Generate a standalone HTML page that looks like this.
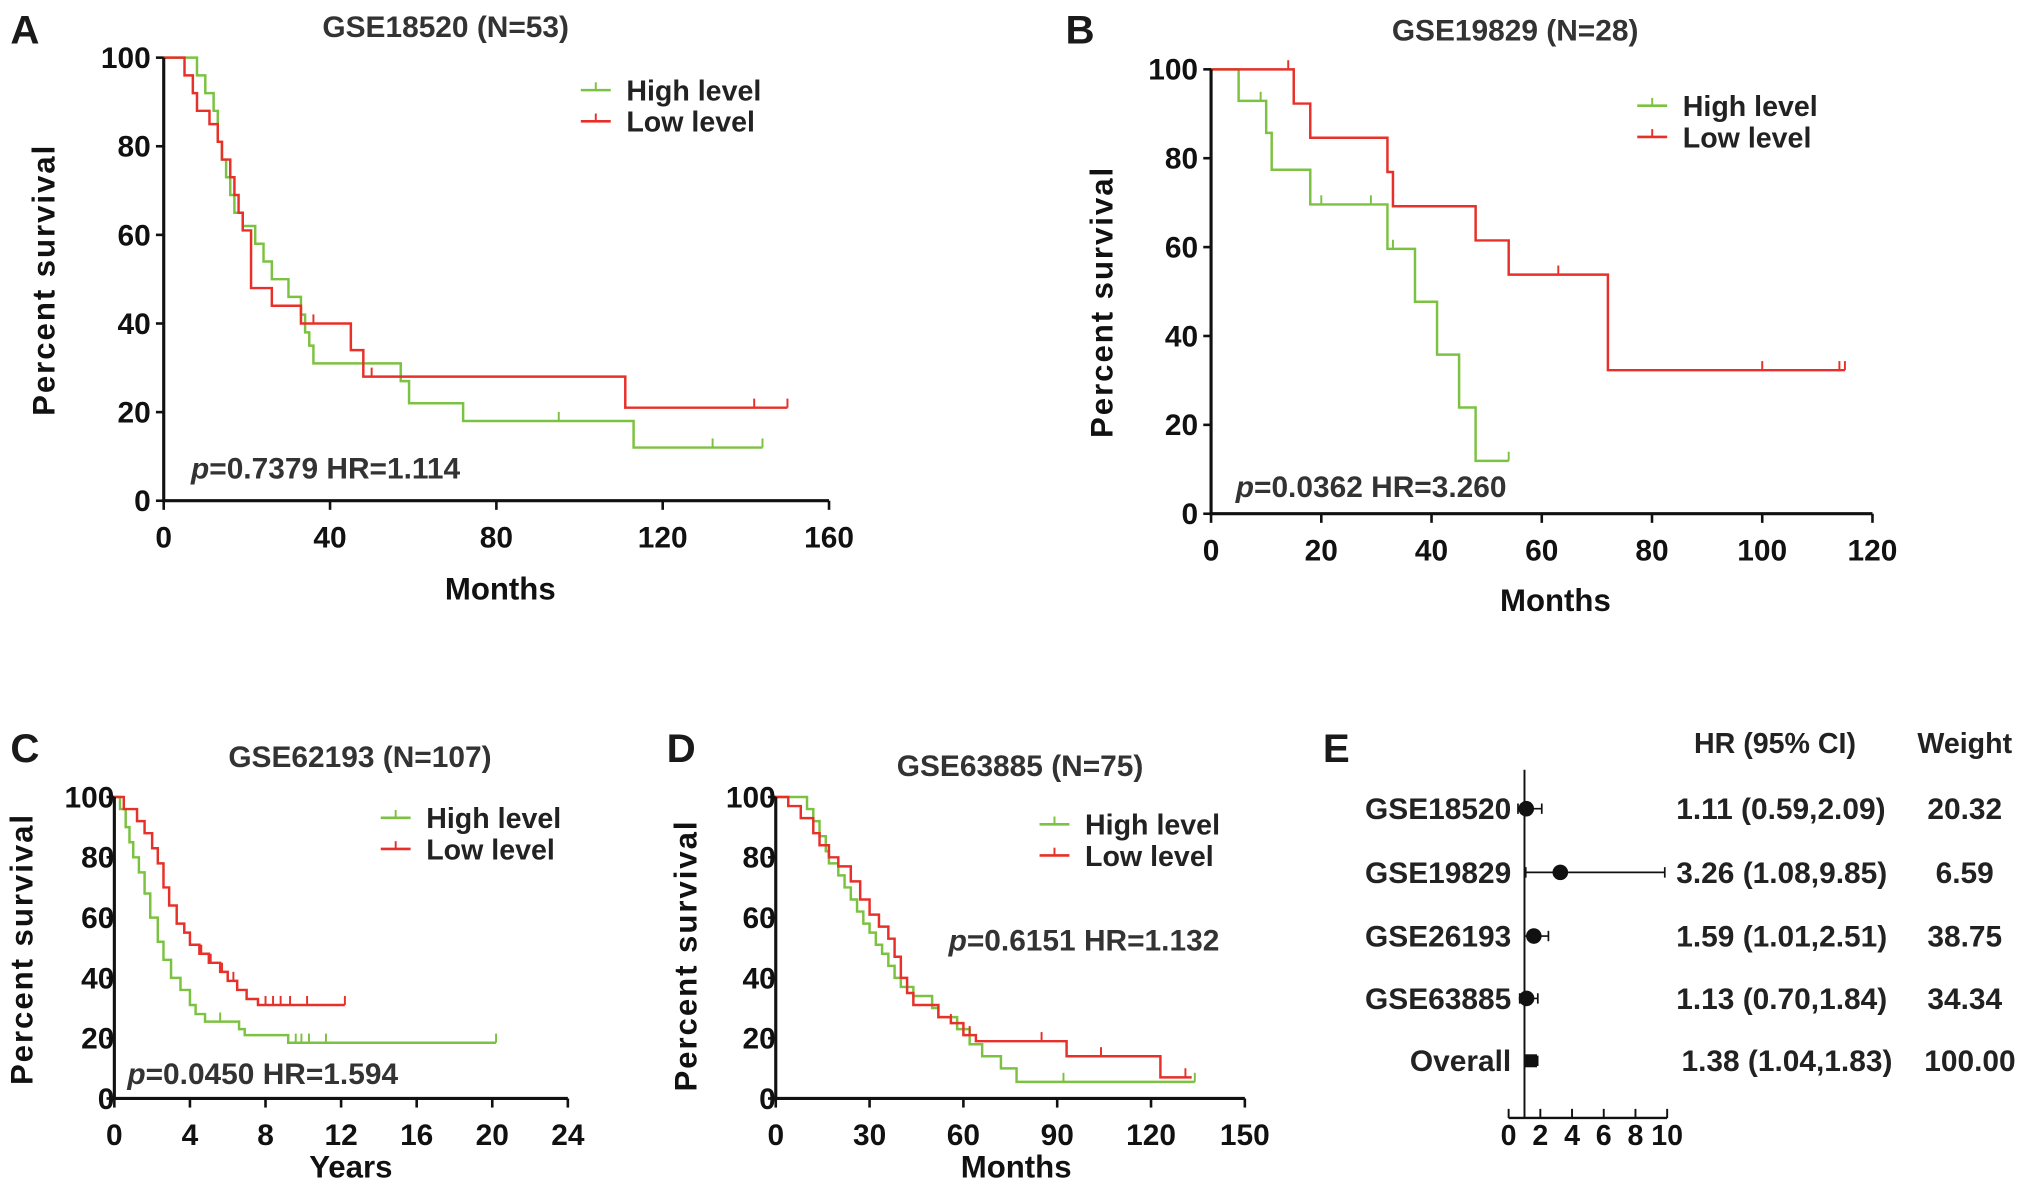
<!DOCTYPE html>
<html><head><meta charset="utf-8"><style>
html,body{margin:0;padding:0;background:#fff;}
svg{display:block;font-family:"Liberation Sans",Arial,sans-serif;font-weight:bold;}
</style></head><body>
<svg id="fig" width="2031" height="1186" viewBox="0 0 1563 912" xmlns="http://www.w3.org/2000/svg"></svg>
<script>
// ---- Panel A data (months, percent) ----
const aHighT=[0,8,10,12,13,14,15,16,17,19,22,24,26,30,33,34,35,36,57,59,72,113];
const aHighS=[100,96,92,88,81,77,73,69,65,62,58,54,50,46,42,38,35,31,27,22,18,12];
const aHighEnd=144; const aHighCens=[95,132,144];
const aLowT=[0,5,7,8,11,13,14,16,17,18,19,21,26,33,45,48,111];
const aLowS=[100,96,92,88,85,81,77,73,69,65,61,48,44,40,34,28,21];
const aLowEnd=150; const aLowCens=[36,50,142,150];
// ---- Panel B ----
const bHighT=[0,5,10,11,18,32,37,41,45,48];
const bHighS=[100,92.9,85.7,77.4,69.6,59.6,47.7,35.8,23.9,11.9];
const bHighEnd=54; const bHighCens=[9,20,29,33,54];
const bLowT=[0,15,18,32,33,48,54,72];
const bLowS=[100,92.3,84.6,76.9,69.2,61.5,53.8,32.3];
const bLowEnd=115; const bLowCens=[14,63,100,114,115];
// ---- Panel C (years) ----
const cHighT=[0,0.3,0.6,0.8,1.0,1.3,1.6,1.9,2.3,2.6,3.0,3.5,4.0,4.3,4.8,6.6,6.9,9.2];
const cHighS=[100,96,90,85,80,75,68,60,52,46,40,36,31,28,25.5,23,21,18.5];
const cHighEnd=20.2; const cHighCens=[5.6,9.6,9.9,10.3,11.2,20.2];
const cLowT=[0,0.5,1.2,1.6,2.0,2.3,2.6,2.9,3.3,3.7,4.0,4.5,5.0,5.6,6.0,6.5,7.0,7.6];
const cLowS=[100,96,92,88,83,78,70,64,58,55,51,48,45,42,39,36,33,31];
const cLowEnd=12.2; const cLowCens=[4.6,5.1,5.7,6.3,8.0,8.4,8.8,9.3,10.2,12.2];
// ---- Panel D (months) ----
const dHighT=[0,10,12,14,16,17,20,22,24,26,28,30,32,34,36,38,40,44,50,52,58,62,66,72,77];
const dHighS=[100,96,92,87,82,78,74,70,66,62,58,55,51,48,44,40,37,34,30,27,23,18,14,10,5.5];
const dHighEnd=134; const dHighCens=[92,134];
const dLowT=[0,4,8,12,14,17,20,24,27,30,33,36,38,40,42,44,52,56,60,64,69,93,123];
const dLowS=[100,97,93,88,84,80,77,72,66,61,57,53,47,40,35,31,27,25,21,19,19,14,7];
const dLowEnd=133; const dLowCens=[56,62,85,104,131];
// ---- Panel E forest ----
const studies=["GSE18520","GSE19829","GSE26193","GSE63885","Overall"];
const hr=[1.11,3.26,1.59,1.13,1.38];
const ciLo=[0.59,1.08,1.01,0.70,1.04];
const ciHi=[2.09,9.85,2.51,1.84,1.83];
const hrText=["1.11 (0.59,2.09)","3.26 (1.08,9.85)","1.59 (1.01,2.51)","1.13 (0.70,1.84)","1.38 (1.04,1.83)"];
const weights=["20.32","6.59","38.75","34.34","100.00"];
const forestTicks=[0,2,4,6,8,10];

const NS="http://www.w3.org/2000/svg";
const svg=document.getElementById('fig');
const GREEN="#7cc242", RED="#e8302a";
function mk(tag,attrs,parent){const e=document.createElementNS(NS,tag);for(const k in attrs)e.setAttribute(k,attrs[k]);(parent||svg).appendChild(e);return e;}
function txt(s,x,y,size,anchor,parent,extra){const t=mk('text',Object.assign({x:x,y:y,'font-size':size,'text-anchor':anchor||'start',fill:'#222'},extra||{}),parent);t.textContent=s;return t;}

function panel(cfg){
  const g=mk('g',{});
  
  
  const sx=v=>cfg.x0+(v-cfg.xmin)/(cfg.xmax-cfg.xmin)*(cfg.x1-cfg.x0);
  const sy=v=>cfg.y0+(100-v)/100*(cfg.yb-cfg.y0);
  const L=txt(cfg.letter,cfg.letterX,cfg.letterY,31,'start',g,{fill:'#1a1a1a'});
  
  const T=txt(cfg.title,cfg.titleX,cfg.titleY,23,'middle',g,{fill:'#333'});
  
  function series(Ts,Ss,end,cens,col,nm){
    let d='M'+sx(Ts[0])+','+sy(Ss[0]);
    for(let i=1;i<Ts.length;i++){d+=' H'+sx(Ts[i])+' V'+sy(Ss[i]);}
    d+=' H'+sx(end);
    const p=mk('path',{d:d,fill:'none',stroke:col,'stroke-width':1.9},g);
    
    cens.forEach(c=>{
      let s=Ss[0];for(let i=0;i<Ts.length;i++){if(Ts[i]<=c)s=Ss[i];}
      const m=mk('line',{x1:sx(c),x2:sx(c),y1:sy(s),y2:sy(s)-7,stroke:col,'stroke-width':1.5},g);
      
    });
  }
  series(cfg.hT,cfg.hS,cfg.hEnd,cfg.hC,GREEN,'high-level');
  series(cfg.lT,cfg.lS,cfg.lEnd,cfg.lC,RED,'low-level');
  const ax=mk('path',{d:`M${cfg.x0},${cfg.y0} V${cfg.yb} H${cfg.x1}`,fill:'none',stroke:'#111','stroke-width':2.4},g);
  
  [0,20,40,60,80,100].forEach(v=>{
    mk('line',{x1:cfg.x0-6,x2:cfg.x0,y1:sy(v),y2:sy(v),stroke:'#111','stroke-width':2},g);
    const t=txt(String(v),cfg.x0+cfg.yLabOff,sy(v)+8,23,'end',g,{fill:'#111'});
    
  });
  cfg.xticks.forEach(v=>{
    mk('line',{x1:sx(v),x2:sx(v),y1:cfg.yb,y2:cfg.yb+7,stroke:'#111','stroke-width':2},g);
    const t=txt(String(v),sx(v),cfg.yb+36,23,'middle',g,{fill:'#111'});
    
  });
  const xt=txt(cfg.xlabel,cfg.xlabX,cfg.xlabY,24,'middle',g,{fill:'#111'});
  
  const yt=txt('Percent survival',0,0,24,'middle',g,{fill:'#111',transform:`translate(${cfg.ylabX},${cfg.ylabY}) rotate(-90)`,'letter-spacing':'1.5'});
  
  [['High level',GREEN,cfg.legY],['Low level',RED,cfg.legY+24]].forEach(([s,c,y])=>{
    const lg=mk('g',{},g);
    
    mk('line',{x1:cfg.legX,x2:cfg.legX+23,y1:y,y2:y,stroke:c,'stroke-width':2},lg);
    mk('line',{x1:cfg.legX+11.5,x2:cfg.legX+11.5,y1:y,y2:y-6,stroke:c,'stroke-width':1.5},lg);
    txt(s,cfg.legX+35,y+8,22,'start',lg,{fill:'#222'});
  });
  const st=mk('text',{x:cfg.pX,y:cfg.pY,'font-size':23,fill:'#333'},g);
  
  const ti=mk('tspan',{'font-style':'italic'},st);ti.textContent='p';
  const t2=mk('tspan',{},st);t2.textContent=cfg.stat;
}

panel({name:'panel-a',letter:'A',letterX:8,letterY:33,title:'GSE18520 (N=53)',titleX:343,titleY:28,
 x0:126,x1:638,xmin:0,xmax:160,y0:44,yb:385,yLabOff:-10,xticks:[0,40,80,120,160],
 xlabel:'Months',xlabX:385,xlabY:461,ylabX:42,ylabY:215,legX:447,legY:69,pX:147,pY:368,stat:'=0.7379 HR=1.114',
 hT:aHighT,hS:aHighS,hEnd:aHighEnd,hC:aHighCens,lT:aLowT,lS:aLowS,lEnd:aLowEnd,lC:aLowCens});
panel({name:'panel-b',letter:'B',letterX:820,letterY:33,title:'GSE19829 (N=28)',titleX:1166,titleY:31,
 x0:932,x1:1441,xmin:0,xmax:120,y0:53,yb:395,yLabOff:-10,xticks:[0,20,40,60,80,100,120],
 xlabel:'Months',xlabX:1197,xlabY:470,ylabX:856,ylabY:232,legX:1260,legY:81,pX:951,pY:382,stat:'=0.0362 HR=3.260',
 hT:bHighT,hS:bHighS,hEnd:bHighEnd,hC:bHighCens,lT:bLowT,lS:bLowS,lEnd:bLowEnd,lC:bLowCens});
panel({name:'panel-c',letter:'C',letterX:8,letterY:586,title:'GSE62193 (N=107)',titleX:277,titleY:590,
 x0:88,x1:437,xmin:0,xmax:24,y0:613,yb:845,yLabOff:0,xticks:[0,4,8,12,16,20,24],
 xlabel:'Years',xlabX:270,xlabY:906,ylabX:25,ylabY:730,legX:293,legY:629,pX:98,pY:834,stat:'=0.0450 HR=1.594',
 hT:cHighT,hS:cHighS,hEnd:cHighEnd,hC:cHighCens,lT:cLowT,lS:cLowS,lEnd:cLowEnd,lC:cLowCens});
panel({name:'panel-d',letter:'D',letterX:513,letterY:586,title:'GSE63885 (N=75)',titleX:785,titleY:597,
 x0:597,x1:958,xmin:0,xmax:150,y0:613,yb:845,yLabOff:0,xticks:[0,30,60,90,120,150],
 xlabel:'Months',xlabX:782,xlabY:906,ylabX:536,ylabY:735,legX:800,legY:634,pX:730,pY:731,stat:'=0.6151 HR=1.132',
 hT:dHighT,hS:dHighS,hEnd:dHighEnd,hC:dHighCens,lT:dLowT,lS:dLowS,lEnd:dLowEnd,lC:dLowCens});

(function(){
  const g=mk('g',{});
  
  
  const fx=v=>1161+v*12.2;
  const rowY=[622,671,720,768,816];
  const L=txt('E',1018,586,31,'start',g,{fill:'#1a1a1a'});
  
  const h1=txt('HR (95% CI)',1366,579,22,'middle',g,{fill:'#222'});
  
  const h2=txt('Weight',1512,579,22,'middle',g,{fill:'#222'});
  
  const ref=mk('line',{x1:fx(1),x2:fx(1),y1:592,y2:860,stroke:'#111','stroke-width':1.5},g);
  
  const xa=mk('line',{x1:fx(0),x2:fx(10),y1:860,y2:860,stroke:'#111','stroke-width':1.8},g);
  
  forestTicks.forEach(v=>{
    mk('line',{x1:fx(v),x2:fx(v),y1:860,y2:853,stroke:'#111','stroke-width':1.5},g);
    const t=txt(String(v),fx(v),881,22,'middle',g,{fill:'#111'});
    
  });
  studies.forEach((s,i)=>{
    const y=rowY[i];
    const lab=txt(s,1163,y+8,23,'end',g,{fill:'#222'});
    
    const ci=mk('path',{d:`M${fx(ciLo[i])},${y-4} V${y+4} M${fx(ciLo[i])},${y} H${fx(ciHi[i])} M${fx(ciHi[i])},${y-4} V${y+4}`,stroke:'#111','stroke-width':1.3,fill:'none'},g);
    
    const dot=(i===4)?mk('rect',{x:fx(hr[i])-5,y:y-5,width:10,height:10,fill:'#111'},g):mk('circle',{cx:fx(hr[i]),cy:y,r:6,fill:'#111'},g);
    
    const ht=txt(hrText[i],i===4?1294:1290,y+8,23,'start',g,{fill:'#222'});
    
    const wt=txt(weights[i],i===4?1516:1512,y+8,23,'middle',g,{fill:'#222'});
    
  });
})();
</script>
</body></html>
